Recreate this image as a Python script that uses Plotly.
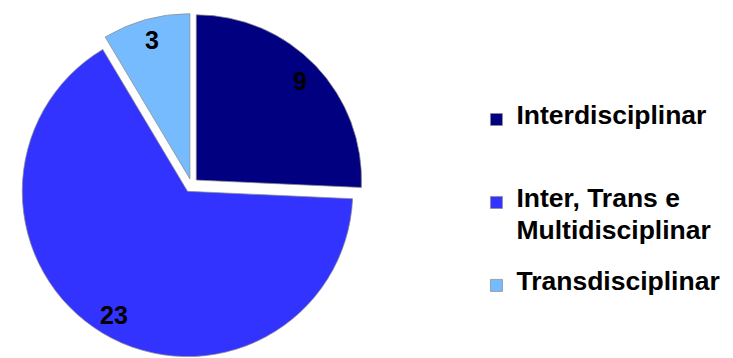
import math
import plotly.graph_objects as go

# ---- data ----
categories = ["Interdisciplinar", "Inter, Trans e<br>Multidisciplinar", "Transdisciplinar"]
values = [9, 23, 3]
colors = ["#000080", "#3333FF", "#77BBFF"]
pulls = [0.04, 0.047, 0.036]

W, H = 733, 358
FONT = "Liberation Sans, Arial, Helvetica, sans-serif"

# pie domain (paper fractions)
dom_x = [0.0252, 0.4973]
dom_y = [0.0, 0.9685]

# legend labels: large glyphs in a span over a small base line height, with
# blank spacer lines so each entry fills an equal slot (as in the original)
SLOT_LINES = 5
def legend_label(lbl, pad=True):
    lines = lbl.split("<br>")
    out = []
    for i, ln in enumerate(lines):
        if i > 0:
            out.append("&nbsp;")
        out.append("<span style='font-size:26.5px'>%s</span>" % ln)
    if pad:
        while len(out) < SLOT_LINES:
            out.append("&nbsp;")
    return "<br>".join(out)

leg_labels = [legend_label(c) for c in categories[:-1]] + [legend_label(categories[-1], pad=False)]

fig = go.Figure(go.Pie(
    labels=leg_labels,
    values=values,
    sort=False,
    direction="clockwise",
    rotation=0,
    pull=pulls,
    marker=dict(colors=colors, line=dict(color="#8c8c8c", width=0.75)),
    textinfo="none",
    hoverinfo="label+value",
    domain=dict(x=dom_x, y=dom_y),
))

# value labels placed along each slice's mid-angle
box_w = (dom_x[1] - dom_x[0]) * W
box_h = (dom_y[1] - dom_y[0]) * H
r = min(box_w, box_h) / 2 / (1 + max(pulls))
cx = (dom_x[0] + dom_x[1]) / 2 * W
cy = (1 - (dom_y[0] + dom_y[1]) / 2) * H
total = sum(values)
cum = 0
annotations = []
for v, p in zip(values, pulls):
    mid = (cum + v / 2) / total * 2 * math.pi
    cum += v
    d = (p + 0.87) * r
    px = cx + d * math.sin(mid)
    py = cy - d * math.cos(mid)
    annotations.append(dict(
        x=px / W, y=1 - py / H, xref="paper", yref="paper",
        text=str(v), showarrow=False,
        font=dict(family=FONT, size=25, color="black", weight="bold"),
        xanchor="center", yanchor="middle",
    ))

fig.update_layout(
    width=W, height=H,
    margin=dict(l=0, r=0, t=0, b=0),
    paper_bgcolor="white",
    plot_bgcolor="white",
    showlegend=True,
    legend=dict(
        x=0.650, y=0.7067, xanchor="left", yanchor="top",
        font=dict(family=FONT, size=12.3, color="black", weight="bold"),
        valign="top",
        bgcolor="rgba(0,0,0,0)",
        traceorder="normal",
    ),
    annotations=annotations,
)

fig.write_html("out.html")
